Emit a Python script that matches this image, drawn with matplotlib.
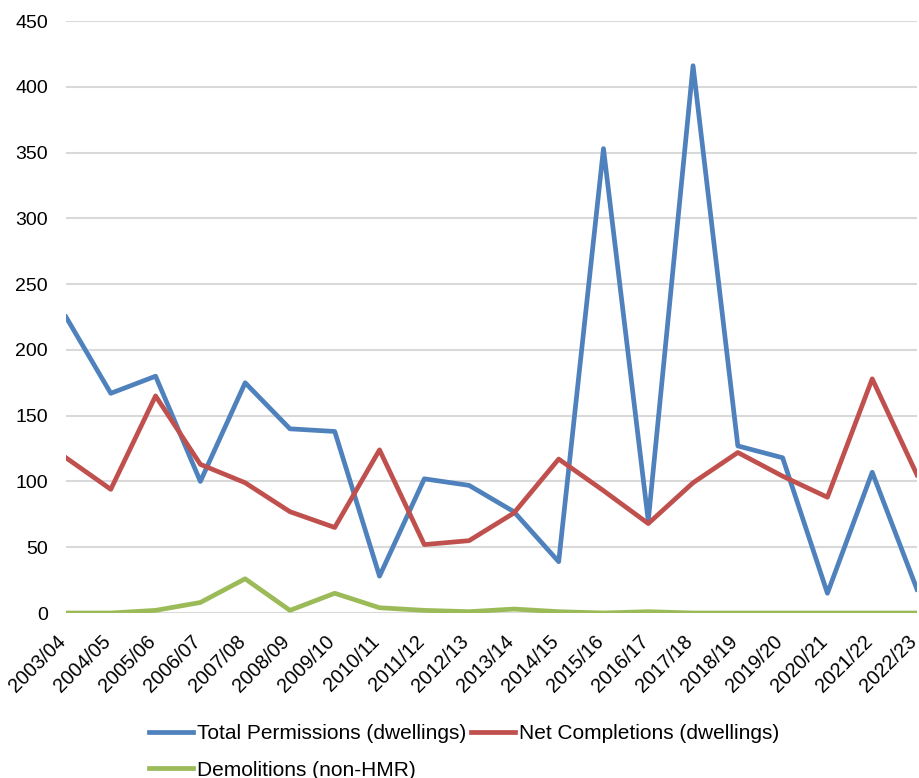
import matplotlib
matplotlib.use("Agg")
import matplotlib.pyplot as plt
import matplotlib.transforms as mtransforms
import numpy as np

plt.rcParams['font.family'] = ['Liberation Sans', 'DejaVu Sans']

years = ['2003/04', '2004/05', '2005/06', '2006/07', '2007/08', '2008/09',
         '2009/10', '2010/11', '2011/12', '2012/13', '2013/14', '2014/15',
         '2015/16', '2016/17', '2017/18', '2018/19', '2019/20', '2020/21',
         '2021/22', '2022/23']
permissions = [225, 167, 180, 100, 175, 140, 138, 28, 102, 97,
               77, 39, 353, 70, 416, 127, 118, 15, 107, 18]
completions = [118, 94, 165, 113, 99, 77, 65, 124, 52, 55,
               76, 117, 93, 68, 99, 122, 104, 88, 178, 105]
demolitions = [0, 0, 2, 8, 26, 2, 15, 4, 2, 1,
               3, 1, 0, 1, 0, 0, 0, 0, 0, 0]

fig = plt.figure(figsize=(9.2, 7.78), dpi=100)
ax = fig.add_axes([66 / 920, 1 - 613 / 778, 851 / 920, 592 / 778])

x = np.arange(len(years))
l1, = ax.plot(x, permissions, color='#4F81BD', lw=3.4, solid_joinstyle='round',
              label='Total Permissions (dwellings)')
l2, = ax.plot(x, completions, color='#C0504D', lw=3.4, solid_joinstyle='round',
              label='Net Completions (dwellings)')
l3, = ax.plot(x, demolitions, color='#9BBB59', lw=3.4, solid_joinstyle='round',
              label='Demolitions (non-HMR)')

ax.set_xlim(0, len(years) - 1)
ax.set_ylim(0, 450)
ax.set_yticks(np.arange(0, 451, 50))
ax.set_xticks(x)
# slanted year labels: right end of the baseline sits just below each tick
ax.set_xticklabels(years, rotation=45, ha='right', va='baseline',
                   rotation_mode='anchor')
ax.tick_params(axis='y', length=0, labelsize=14, pad=13)
ax.tick_params(axis='x', length=0, labelsize=14.2, pad=21)
ax.grid(axis='y', color='#D9D9D9', lw=1.5)
ax.set_axisbelow(True)
for s in ax.spines.values():
    s.set_visible(False)

shift = mtransforms.ScaledTranslation(1 / 100, 0, fig.dpi_scale_trans)
for lab in ax.get_xticklabels():
    lab.set_transform(lab.get_transform() + shift)

# row-major order: two entries on the first row, one below
fig.legend([l1, l3, l2], [l1.get_label(), l3.get_label(), l2.get_label()],
           ncol=2, loc='upper left', bbox_to_anchor=(149 / 920, 1 - 724 / 778),
           frameon=False, fontsize=15, handlelength=2.1, handletextpad=0.2,
           columnspacing=0.25, labelspacing=0.85, borderpad=0, borderaxespad=0)

fig.savefig('out.png', dpi=100)
